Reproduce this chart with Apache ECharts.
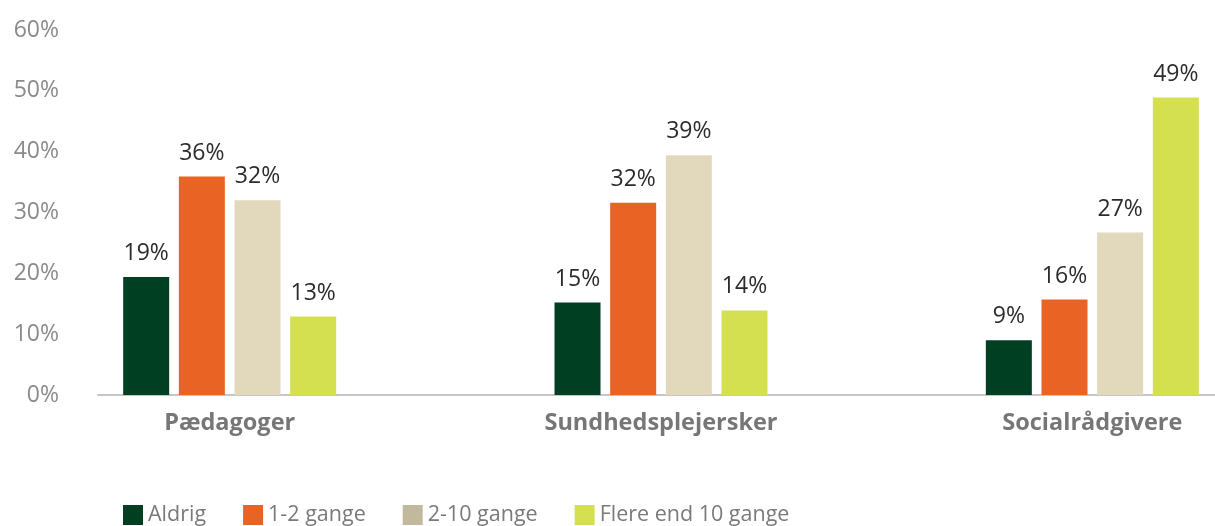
<!DOCTYPE html>
<html lang="da">
<head>
    <meta charset="UTF-8">
    <title>Aldrig / 1-2 gange / 2-10 gange / Flere end 10 gange</title>
    <script src="https://cdn.jsdelivr.net/npm/echarts@6/dist/echarts.min.js"></script>
    <style>
        html, body { margin: 0; padding: 0; background: #fff; }
    </style>
</head>
<body>
    <div id="main" style="width: 1215px;height:526px;"></div>
    <script>
        const categories = ['Pædagoger', 'Sundhedsplejersker', 'Socialrådgivere'];
        const seriesNames = ['Aldrig', '1-2 gange', '2-10 gange', 'Flere end 10 gange'];
        const aldrig = [19.4, 15.2, 9.0];
        const gange12 = [35.9, 31.6, 15.7];
        const gange210 = [32.0, 39.4, 26.7];
        const flere10 = [12.9, 13.9, 48.9];
        const yTicks = [0, 10, 20, 30, 40, 50, 60];

        const barColors = ['#003f22', '#e96325', '#e2d9bd', '#d4e04f'];
        const legendColors = ['#003f22', '#e96325', '#c2b99c', '#d4e04f'];
        const values = [aldrig, gange12, gange210, flere10];

        const font = '"Open Sans", "Noto Sans", sans-serif';
        const gridTop = 30, gridBottom = 131;

        const chart = echarts.init(document.getElementById('main'));
        const option = {
            animation: false,
            textStyle: { fontFamily: font },
            grid: [
                // bar grid runs past the right edge so the groups sit where the original has them
                { left: 14, right: -93, top: gridTop, bottom: gridBottom, outerBoundsMode: 'none', containLabel: false },
                { left: 98, right: 0, top: gridTop, bottom: gridBottom, outerBoundsMode: 'none', containLabel: false }
            ],
            legend: {
                left: 118,
                top: 499,
                itemWidth: 20,
                itemHeight: 20,
                itemGap: 37,
                icon: 'rect',
                textStyle: { fontSize: 21.5, color: '#7a7a7a', fontFamily: font },
                data: seriesNames.map((n, i) => ({ name: n, itemStyle: { color: legendColors[i] } }))
            },
            xAxis: [
                {
                    type: 'category',
                    gridIndex: 0,
                    data: categories,
                    axisLine: { show: false },
                    axisTick: { show: false },
                    axisLabel: {
                        margin: 16,
                        fontSize: 23.5,
                        fontWeight: 'bold',
                        color: '#767676',
                        fontFamily: font
                    }
                },
                {
                    type: 'value',
                    gridIndex: 1,
                    axisLine: { show: true, lineStyle: { color: '#c6c6c6', width: 2 } },
                    axisTick: { show: false },
                    axisLabel: { show: false },
                    splitLine: { show: false }
                }
            ],
            yAxis: [
                {
                    type: 'value',
                    gridIndex: 0,
                    min: yTicks[0],
                    max: yTicks[yTicks.length - 1],
                    show: false
                },
                {
                    type: 'value',
                    gridIndex: 1,
                    min: yTicks[0],
                    max: yTicks[yTicks.length - 1],
                    interval: 10,
                    axisLine: { show: false },
                    axisTick: { show: false },
                    splitLine: { show: false },
                    axisLabel: {
                        margin: 39,
                        fontSize: 23,
                        color: '#8a8a8a',
                        fontFamily: font,
                        formatter: '{value}%'
                    }
                }
            ],
            series: seriesNames.map((name, i) => ({
                name: name,
                type: 'bar',
                xAxisIndex: 0,
                yAxisIndex: 0,
                barWidth: 46,
                barGap: '21%',
                data: values[i],
                itemStyle: { color: barColors[i] },
                label: {
                    show: true,
                    position: 'top',
                    distance: 12,
                    fontSize: 23,
                    color: '#2b2b2b',
                    fontFamily: font,
                    formatter: p => Math.round(p.value) + '%'
                }
            }))
        };
        chart.setOption(option);
    </script>
</body>
</html>
